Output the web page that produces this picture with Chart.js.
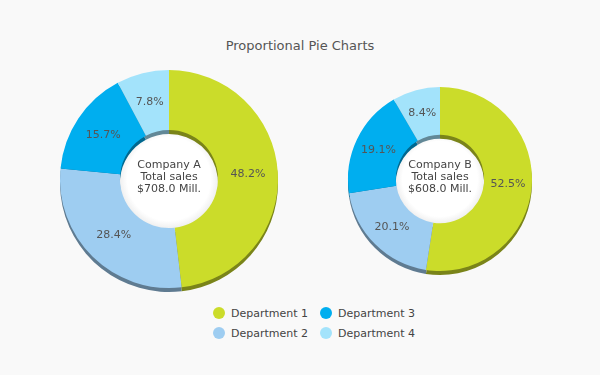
<!DOCTYPE html>
<html>
<head>
<meta charset="utf-8">
<script src="https://cdn.jsdelivr.net/npm/chart.js@4.4.1/dist/chart.umd.min.js"></script>
<style>
  body { margin: 0; background: #f9f9f9; font-family: "DejaVu Sans", Verdana, sans-serif; }
  #wrap { position: relative; width: 600px; height: 375px; overflow: hidden; }
  #title { position: absolute; left: 0; top: 38px; width: 600px; text-align: center; font-size: 13px; color: #555; }
  canvas { position: absolute; }
  #legend { position: absolute; left: 213px; top: 305px; display: grid; grid-template-columns: 107px 100px; row-gap: 4px; font-size: 11px; color: #444; }
  .item { display: flex; align-items: center; height: 16px; }
  .dot { width: 12px; height: 12px; border-radius: 50%; margin-right: 6px; }
</style>
</head>
<body>
<div id="wrap">
  <div id="title">Proportional Pie Charts</div>
  <canvas id="pieA" width="240" height="240" style="left:49px;top:59px"></canvas>
  <canvas id="pieB" width="210" height="210" style="left:335px;top:74px"></canvas>
  <div id="legend"></div>
</div>
<script>
const categories = ["Department 1", "Department 2", "Department 3", "Department 4"];
const colors = ["#cbdc2a", "#9ecdf1", "#00aeef", "#a3e3fb"];
const companies = ["Company A", "Company B"];
const totalSales = [708.0, 608.0];
const companyA = [48.2, 28.4, 15.7, 7.8];
const companyB = [52.5, 20.1, 19.1, 8.4];

// legend order: column-wise (1,3 / 2,4)
const legendOrder = [0, 2, 1, 3];
const legend = document.getElementById("legend");
legendOrder.forEach((i) => {
  const item = document.createElement("div");
  item.className = "item";
  item.innerHTML = '<span class="dot" style="background:' + colors[i] + '"></span>' + categories[i];
  legend.appendChild(item);
});

function darken(hex, f) {
  const n = parseInt(hex.slice(1), 16);
  const r = Math.round(((n >> 16) & 255) * f);
  const g = Math.round(((n >> 8) & 255) * f);
  const b = Math.round((n & 255) * f);
  return "rgb(" + r + "," + g + "," + b + ")";
}

// fake 3d: hole shading + shifted darker ring under the slices
const depthPlugin = {
  id: "depth",
  beforeDatasetsDraw(chart) {
    const ctx = chart.ctx;
    const arcs = chart.getDatasetMeta(0).data;
    if (!arcs.length) return;
    const a0 = arcs[0];
    const g = ctx.createRadialGradient(a0.x, a0.y, 0, a0.x, a0.y, a0.innerRadius);
    g.addColorStop(0, "#ffffff");
    g.addColorStop(0.85, "#ffffff");
    g.addColorStop(1, "#f0f0f0");
    ctx.save();
    ctx.fillStyle = g;
    ctx.beginPath();
    ctx.arc(a0.x, a0.y, a0.innerRadius + 1, 0, Math.PI * 2);
    ctx.fill();
    const d = 4;
    arcs.forEach((arc, i) => {
      ctx.fillStyle = darken(colors[i], 0.6);
      ctx.beginPath();
      ctx.arc(arc.x, arc.y + d, arc.outerRadius, arc.startAngle, arc.endAngle);
      ctx.arc(arc.x, arc.y + d, arc.innerRadius, arc.endAngle, arc.startAngle, true);
      ctx.closePath();
      ctx.fill();
    });
    ctx.restore();
  },
  afterDatasetsDraw(chart) {
    const ctx = chart.ctx;
    const arcs = chart.getDatasetMeta(0).data;
    const vals = chart.data.datasets[0].data;
    ctx.save();
    ctx.font = "11px 'DejaVu Sans', Verdana, sans-serif";
    ctx.textAlign = "center";
    ctx.textBaseline = "middle";
    ctx.fillStyle = "#555";
    arcs.forEach((arc, i) => {
      const p = arc.tooltipPosition();
      ctx.fillText(vals[i].toFixed(1) + "%", p.x, p.y);
    });
    const o = chart.options.plugins.centerText;
    const cx = arcs[0].x, cy = arcs[0].y - 2;
    ctx.fillStyle = "#444";
    ctx.fillText(o.name, cx, cy - 12);
    ctx.fillText("Total sales", cx, cy);
    ctx.fillText("$" + o.total.toFixed(1) + " Mill.", cx, cy + 12);
    ctx.restore();
  }
};

function makePie(id, data, name, total, radius, cutout) {
  return new Chart(document.getElementById(id), {
    type: "doughnut",
    data: {
      labels: categories,
      datasets: [{ data: data, backgroundColor: colors, borderWidth: 0, hoverOffset: 0 }]
    },
    options: {
      responsive: false,
      animation: false,
      radius: radius,
      cutout: cutout,
      layout: { padding: 0 },
      plugins: {
        legend: { display: false },
        tooltip: { enabled: false },
        centerText: { name: name, total: total }
      }
    },
    plugins: [depthPlugin]
  });
}

makePie("pieA", companyA, companies[0], totalSales[0], 109, "45%");
makePie("pieB", companyB, companies[1], totalSales[1], 92, "48%");
</script>
</body>
</html>
